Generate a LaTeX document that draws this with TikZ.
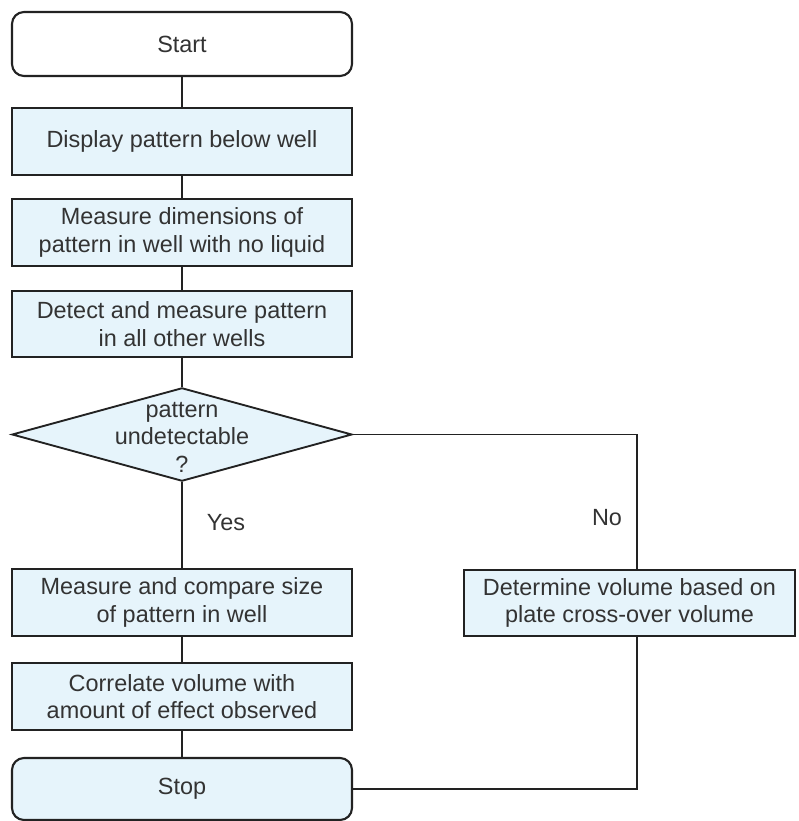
\documentclass[tikz,border=0pt]{standalone}
\usepackage{fontspec}
\setmainfont{Liberation Sans}
\usepackage{tikz}
\usetikzlibrary{shapes.geometric}

\definecolor{boxfill}{HTML}{E6F4FB}
\definecolor{inkgray}{HTML}{333333}
\definecolor{linegray}{HTML}{222222}

\begin{document}
\begin{tikzpicture}[x=0.03cm, y=-0.03cm,
		font=\fontsize{20}{23.5}\selectfont, text=inkgray,
		stepbox/.style={rectangle, draw=linegray, line width=1.8pt, fill=boxfill, minimum width=10.2cm, minimum height=2.01cm, inner sep=0pt, align=center},
		endbox/.style={stepbox, rounded corners=0.36cm},
		askbox/.style={diamond, draw=linegray, line width=1.6pt, fill=boxfill, minimum width=10.2cm, minimum height=2.8cm, inner sep=0pt},
		link/.style={draw=linegray, line width=1.4pt}]
			\useasboundingbox (0,0) rectangle (798,821);

			% main column
			\node[endbox, fill=white, minimum height=1.92cm] (start) at (182,44) {Start};
			\node[stepbox] (show) at (182,141.5) {Display pattern below well};
			\node[stepbox] (dry) at (182,232.5) {Measure dimensions of\\pattern in well with no liquid};
			\node[stepbox, minimum height=1.98cm] (detect) at (182,324) {Detect and measure pattern\\in all other wells};
			\node[askbox] (ask) at (182,434.5) {};
			\node[align=center] (asktext) at (182,437) {pattern\\undetectable\\?};
			\node[stepbox] (compare) at (182,602.5) {Measure and compare size\\of pattern in well};
			\node[stepbox] (correlate) at (182,696.5) {Correlate volume with\\amount of effect observed};
			\node[endbox, minimum height=1.86cm] (stop) at (182,789) {Stop};

			% side branch
			\node[stepbox, minimum width=9.93cm, minimum height=1.98cm] (cross) at (629.5,603) {Determine volume based on\\plate cross-over volume};

			\coordinate (noturn) at (637,434.5);
			\coordinate (backturn) at (637,789);

			\draw[link] (start) -- (show);
			\draw[link] (show) -- (dry);
			\draw[link] (dry) -- (detect);
			\draw[link] (detect) -- (ask);
			\draw[link] (ask) -- (compare);
			\draw[link] (compare) -- (correlate);
			\draw[link] (correlate) -- (stop);
			\draw[link] (ask.east) -- (noturn) -- (noturn |- cross.north);
			\draw[link] (backturn |- cross.south) -- (backturn) -- (stop.east);

			\node (yes) at (226,523) {Yes};
			\node (no) at (607,518) {No};
		\end{tikzpicture}
\end{document}
